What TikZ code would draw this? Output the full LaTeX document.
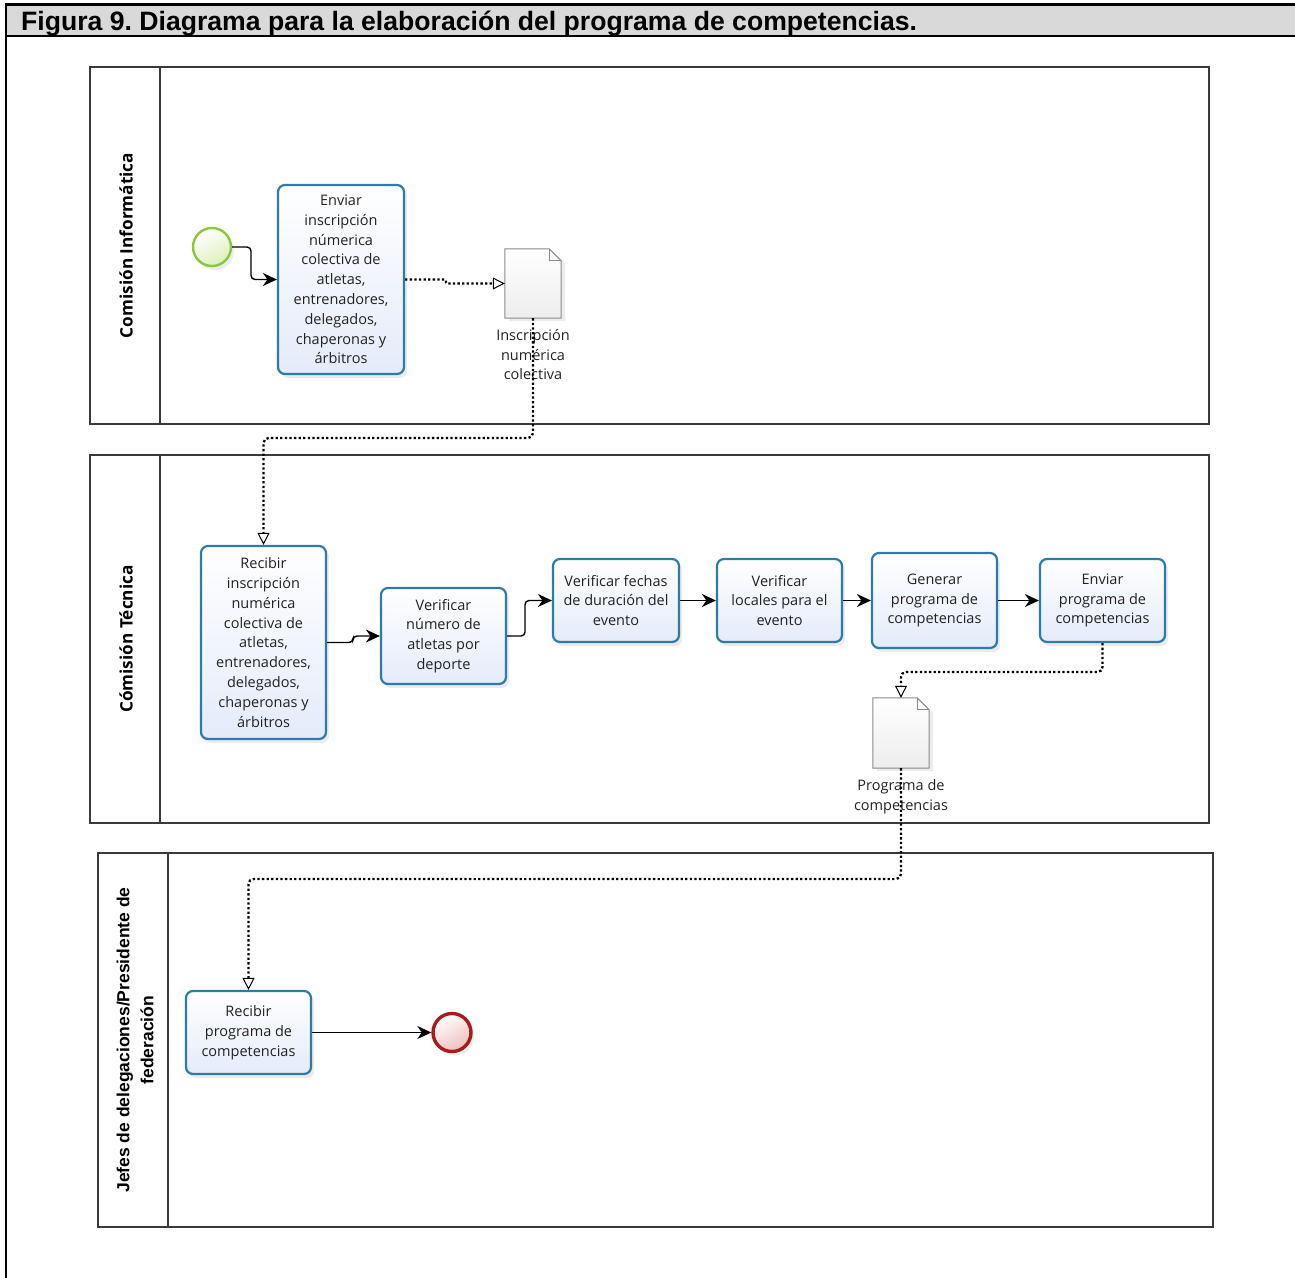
\documentclass[tikz,border=0pt]{standalone}
\usepackage{fontspec}
\setmainfont{Open Sans}
\newfontfamily\arialfont{Liberation Sans}
\usetikzlibrary{arrows.meta,shadows}
\frenchspacing

\definecolor{taskline}{HTML}{2D7BA6}
\definecolor{taskfill}{HTML}{E4EBF9}
\definecolor{laneline}{HTML}{3A3A3A}
\definecolor{startline}{HTML}{8CC63F}
\definecolor{startfill}{HTML}{DDF0BB}
\definecolor{endline}{HTML}{A81C1C}
\definecolor{endfill}{HTML}{F0BDBD}
\definecolor{docline}{HTML}{8A8A8A}
\definecolor{docfill}{HTML}{EDEDED}
\definecolor{titlefill}{HTML}{D9D9D9}
\definecolor{txt}{HTML}{222222}

\begin{document}
\begin{tikzpicture}[x=1pt,y=-1pt,
  tasktext/.style={font=\fontsize{14.5}{19.8}\selectfont, text=txt, align=center},
  task/.style={tasktext, draw=taskline, line width=2.2pt, rounded corners=7pt,
    top color=white, bottom color=taskfill, inner sep=0pt,
    drop shadow={shadow xshift=3pt, shadow yshift=-4pt, opacity=0.16}},
  lane/.style={draw=laneline, line width=1.3pt, inner sep=0pt},
  lanelabel/.style={rotate=90, font=\bfseries\fontsize{17.2}{20}\selectfont, text=black},
  startev/.style={circle, draw=startline, line width=2.4pt, minimum size=38pt, inner sep=0pt,
    top color=white, bottom color=startfill, shading angle=30,
    drop shadow={shadow xshift=3pt, shadow yshift=-4pt, opacity=0.15}},
  endev/.style={circle, draw=endline, line width=3.4pt, minimum size=38pt, inner sep=0pt,
    top color=white, bottom color=endfill, shading angle=30,
    drop shadow={shadow xshift=3pt, shadow yshift=-4pt, opacity=0.15}},
  docbox/.style={minimum width=56pt, minimum height=69pt, inner sep=0pt},
  docpage/.style={draw=docline, line width=1pt, top color=white, bottom color=docfill,
    drop shadow={shadow xshift=4pt, shadow yshift=-3pt, opacity=0.15}},
  flow/.style={draw=black, line width=1.4pt, rounded corners=4pt,
    -{Stealth[length=14pt,width=13pt,inset=4.5pt]}},
  assoc/.style={draw=black, line width=2.3pt, dash pattern=on 2.3pt off 2.3pt,
    rounded corners=5pt, -{Triangle[length=12pt,width=12pt,fill=white,line width=1pt]}}
]
\useasboundingbox (0,0) rectangle (1295,1277);

% page frame and title bar
\fill[titlefill] (6,5) rectangle (1300,36);
\draw[line width=2pt] (6,1290) -- (6,4);
\draw[line width=3pt] (5,4.5) -- (1300,4.5);
\draw[line width=2.2pt] (5,36) -- (1300,36);
\node[anchor=base west, inner sep=0pt, font=\arialfont\bfseries\fontsize{26.6}{30}\selectfont]
  (title) at (21,30) {Figura 9. Diagrama para la elaboración del programa de competencias.};

% swimlanes
\node[lane, minimum width=1119pt, minimum height=357pt] (lane1) at (649.5,245.5) {};
\draw[laneline, line width=1.3pt] (160,67) -- (160,424);
\node[lanelabel] (lab1) at (126,245.5) {Comisión Informática};

\node[lane, minimum width=1119pt, minimum height=368pt] (lane2) at (649.5,639) {};
\draw[laneline, line width=1.3pt] (160,455) -- (160,823);
\node[lanelabel] (lab2) at (126,639) {Cómisión Técnica};

\node[lane, minimum width=1115pt, minimum height=374pt] (lane3) at (655.5,1040) {};
\draw[laneline, line width=1.3pt] (168,853) -- (168,1227);
\node[rotate=90, align=center, text=black,
  font=\arialfont\bfseries\fontsize{17.5}{24}\selectfont] (lab3) at (135,1040)
  {Jefes de delegaciones/Presidente de\\federación};

% events and tasks
\node[startev] (start) at (212,247) {};
\node[task, minimum width=126pt, minimum height=189pt] (t1) at (341,279.5)
  {Enviar\\inscripción\\númerica\\colectiva de\\atletas,\\entrenadores,\\delegados,\\chaperonas y\\árbitros};

\node[task, minimum width=125pt, minimum height=193pt] (r1) at (263.5,642.5)
  {Recibir\\inscripción\\numérica\\colectiva de\\atletas,\\entrenadores,\\delegados,\\chaperonas y\\árbitros};
\node[task, minimum width=125pt, minimum height=96pt] (v1) at (443.5,636)
  {Verificar\\número de\\atletas por\\deporte};
\node[task, minimum width=126pt, minimum height=83pt] (v2) at (616,600.5)
  {Verificar fechas\\de duración del\\evento};
\node[task, minimum width=125pt, minimum height=83pt] (v3) at (779.5,600.5)
  {Verificar\\locales para el\\evento};
\node[task, minimum width=125pt, minimum height=95pt] (g) at (934.5,600.5)
  {Generar\\programa de\\competencias};
\node[task, minimum width=125pt, minimum height=83pt] (e) at (1102.5,600.5)
  {Enviar\\programa de\\competencias};

\node[task, minimum width=125pt, minimum height=83pt] (rp) at (248.5,1032.5)
  {Recibir\\programa de\\competencias};
\node[endev] (end) at (452,1032.5) {};

% data objects
\node[docbox] (d1) at (533,283.5) {};
\path[docpage] (d1.north west) -- ([xshift=-12pt]d1.north east) -- ([yshift=-12pt]d1.north east)
  -- (d1.south east) -- (d1.south west) -- cycle;
\draw[docline, line width=1pt] ([xshift=-12pt]d1.north east) |- ([yshift=-12pt]d1.north east);
\node[tasktext, anchor=north, inner sep=0pt] (d1lab) at (533,329) {Inscripción\\numérica\\colectiva};

\node[docbox, minimum height=70pt] (d2) at (901,733) {};
\path[docpage] (d2.north west) -- ([xshift=-12pt]d2.north east) -- ([yshift=-12pt]d2.north east)
  -- (d2.south east) -- (d2.south west) -- cycle;
\draw[docline, line width=1pt] ([xshift=-12pt]d2.north east) |- ([yshift=-12pt]d2.north east);
\node[tasktext, anchor=north, inner sep=0pt] (d2lab) at (901,779) {Programa de\\competencias};

% sequence flows
\draw[flow] (start.east) -- (251,247) |- (t1.west);
\draw[flow] (r1.east) -- (353,642.5) |- (v1.west);
\draw[flow] (v1.east) -- (525,636) |- (v2.west);
\draw[flow] (v2.east) -- (v3.west);
\draw[flow] (v3.east) -- (g.west);
\draw[flow] (g.east) -- (e.west);
\draw[flow] (rp.east) -- (end.west);

% data associations
\draw[assoc, rounded corners=1pt] (t1.east) -- (446,279.5) -- (446,283.5) -- (d1.west);
\draw[assoc] (d1.south) -- (533,438) -| (r1.north);
\draw[assoc] (e.south) -- (1102.5,672) -| (d2.north);
\draw[assoc] (d2.south) -- (901,879) -| (rp.north);
\end{tikzpicture}
\end{document}
